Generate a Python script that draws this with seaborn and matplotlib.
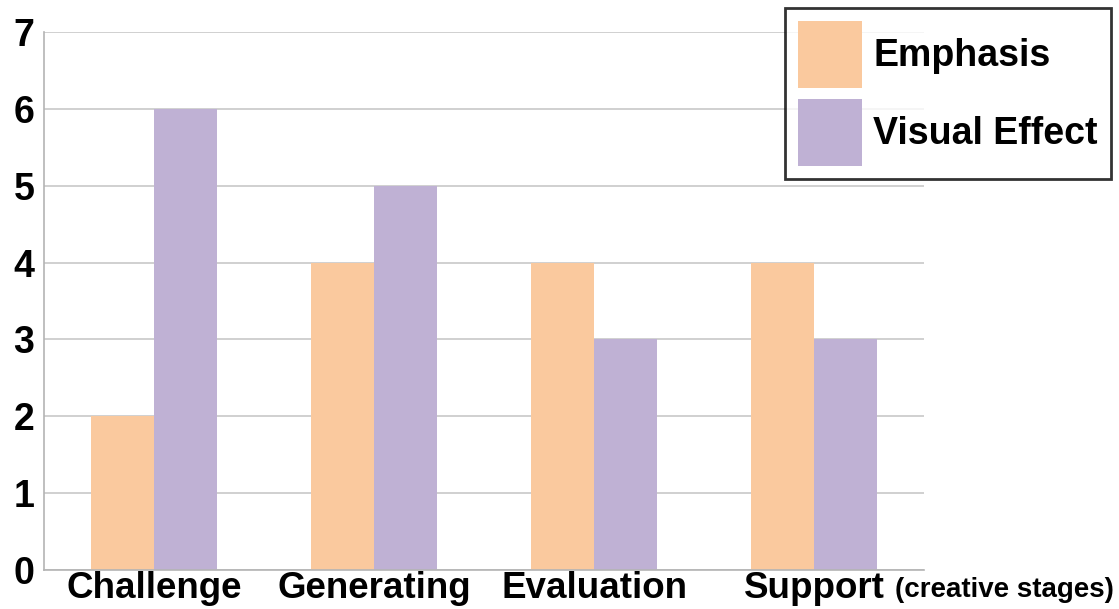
import matplotlib
matplotlib.use("Agg")
import matplotlib.pyplot as plt
import seaborn as sns
import pandas as pd

categories = ["Challenge", "Generating", "Evaluation", "Support"]
series = ["Emphasis", "Visual Effect"]
emphasis = [2, 4, 4, 4]
visual_effect = [6, 5, 3, 3]
yticks = [0, 1, 2, 3, 4, 5, 6, 7]

df = pd.DataFrame({
    "stage": categories * 2,
    "series": [series[0]] * 4 + [series[1]] * 4,
    "value": emphasis + visual_effect,
})

sns.set_theme(style="white")
plt.rcParams["font.family"] = ["Liberation Sans", "DejaVu Sans"]
plt.rcParams["text.color"] = "black"
plt.rcParams["xtick.color"] = "black"
plt.rcParams["ytick.color"] = "black"

fig = plt.figure(figsize=(11.19, 6.09), dpi=100)
ax = fig.add_axes([44 / 1119, 1 - 570 / 609, 880 / 1119, 538 / 609])

palette = {"Emphasis": "#FAC99E", "Visual Effect": "#BFB1D4"}
sns.barplot(data=df, x="stage", y="value", hue="series", palette=palette,
            order=categories, hue_order=series, width=0.57, saturation=1,
            ax=ax, legend=True, linewidth=0)

ax.set_ylim(0, 7)
ax.set_xlim(-0.5, 3.5)
ax.set_yticks(yticks)
ax.set_yticklabels([str(t) for t in yticks], fontsize=27, fontweight="bold", color="black")
ax.set_xticklabels(categories, fontsize=26.5, fontweight="bold", color="black")
ax.set_xlabel("")
ax.set_ylabel("")
ax.yaxis.grid(True, color="#C8C8C8", linewidth=1.2)
ax.set_axisbelow(True)
ax.tick_params(axis="y", length=0, pad=7)
ax.tick_params(axis="x", length=0, pad=1)
for s in ["top", "right"]:
    ax.spines[s].set_visible(False)
for s in ["left", "bottom"]:
    ax.spines[s].set_color("#B4B4B4")
    ax.spines[s].set_linewidth(1.2)

leg = ax.legend(loc="upper right", bbox_to_anchor=(1111 / 1119, 1 - 8 / 609),
                bbox_transform=fig.transFigure, borderaxespad=0,
                prop={"weight": "bold", "size": 27},
                handlelength=1.72, handleheight=2.38, handletextpad=0.3,
                labelspacing=0.28, borderpad=0.35, frameon=True, fancybox=False)
leg.get_frame().set_edgecolor("black")
leg.get_frame().set_linewidth(2)
for t in leg.get_texts():
    t.set_color("black")

fig.text(1114 / 1119, 1 - 590 / 609, "(creative stages)", ha="right", va="center",
         fontsize=20, fontweight="bold", color="black")

fig.savefig("out.png", dpi=100)
